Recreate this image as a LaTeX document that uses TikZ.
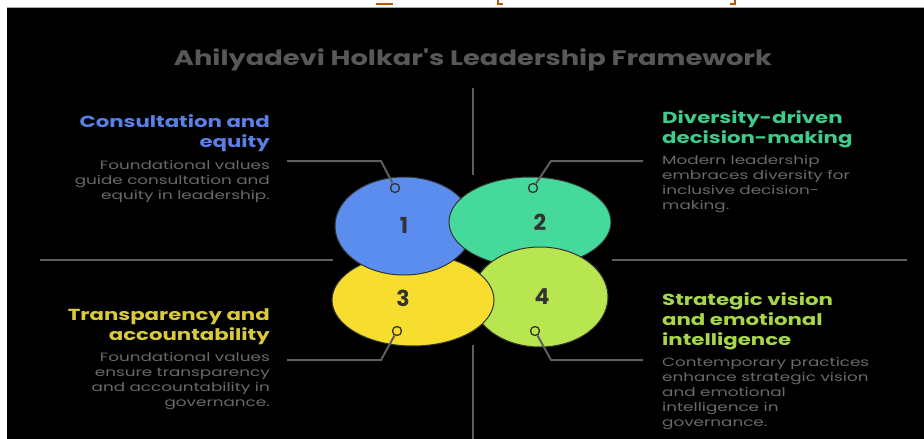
\documentclass[tikz,border=0pt]{standalone}
\usepackage{fontspec}
\setmainfont{Poppins}
\newfontfamily\headfont[FakeStretch=1.33]{Poppins}
\newfontfamily\bodyfont[FakeStretch=1.4]{Poppins}
\newfontfamily\titlefont[FakeStretch=1.3]{Poppins}
\usetikzlibrary{shapes}
\definecolor{linegray}{HTML}{5E5E5E}
\definecolor{txtgray}{HTML}{6A6A6A}
\definecolor{titlegray}{HTML}{585858}
\definecolor{numgray}{HTML}{333333}
\definecolor{blueone}{HTML}{5B8DEF}
\definecolor{greentwo}{HTML}{45D99B}
\definecolor{yellowthree}{HTML}{F7DE2E}
\definecolor{limefour}{HTML}{B8E651}
\definecolor{headblue}{HTML}{5C7FE6}
\definecolor{headgreen}{HTML}{3FCB8C}
\definecolor{headyellow}{HTML}{D9C93C}
\definecolor{headlime}{HTML}{A6D64B}
\definecolor{topmark}{HTML}{B45A0A}
\tikzstyle{petal}=[ellipse,draw=numgray,line width=1pt,inner sep=0pt]
\tikzstyle{num}=[text=numgray,font=\fontsize{22}{22}\selectfont\bfseries]
\tikzstyle{ring}=[circle,draw=numgray,line width=1.3pt,inner sep=0pt,minimum size=9pt]
\tikzstyle{conn}=[linegray,line width=2.5pt]
\tikzstyle{head}=[inner sep=0pt,font=\headfont\fontsize{16}{20}\selectfont\bfseries]
\tikzstyle{body}=[inner sep=0pt,text=txtgray,font=\bodyfont\fontsize{12}{15}\selectfont]

\begin{document}
\begin{tikzpicture}[x=1pt,y=-1pt]
\useasboundingbox (0,0) rectangle (924,439);
\fill[white] (0,0) rectangle (924,439);
\fill[black] (7,8) rectangle (924,439);
\draw[gray!70,line width=1pt] (7,7.5) -- (924,7.5);
% cut-off marks of the caption above
\draw[topmark,line width=2pt] (376,4) -- (393,4);
\draw[topmark,line width=2pt] (498,0) -- (498,4) -- (503,4);
\draw[topmark,line width=2pt] (735,0) -- (735,4) -- (730,4);
\node[text=titlegray,font=\titlefont\fontsize{21}{21}\selectfont\bfseries] (title) at (473,60) {Ahilyadevi Holkar's Leadership Framework};
% axes
\coordinate (vt) at (473,88);
\coordinate (vm) at (473,175);
\coordinate (vb) at (473,345);
\coordinate (vz) at (473,439);
\coordinate (hl) at (40,260);
\coordinate (hm) at (333,260);
\coordinate (hn) at (612,260);
\coordinate (hr) at (907,260);
\draw[conn] (vt) -- (vm);
\draw[conn] (vb) -- (vz);
\draw[conn] (hl) -- (hm);
\draw[conn] (hn) -- (hr);
% petals
\node[petal,fill=yellowthree,minimum width=162pt,minimum height=92pt] (p3) at (413,300) {};
\node[petal,fill=blueone,minimum width=138pt,minimum height=98pt] (p1) at (404,226) {};
\node[petal,fill=greentwo,minimum width=162pt,minimum height=90pt] (p2) at (530,222) {};
\node[petal,fill=limefour,minimum width=136pt,minimum height=100pt] (p4) at (540,297) {};
\begin{scope}
\clip (468,262) rectangle (520,360);
\node[petal,fill=yellowthree,minimum width=162pt,minimum height=92pt] at (413,300) {};
\end{scope}
\node[num] (n1) at (404,225) {1};
\node[num] (n2) at (540,222) {2};
\node[num] (n3) at (403,298) {3};
\node[num] (n4) at (542,297) {4};
% rings and leaders
\node[ring] (m1) at (395,188) {};
\node[ring] (m2) at (533,188) {};
\node[ring] (m3) at (397,331) {};
\node[ring] (m4) at (535,331) {};
\coordinate (k1) at (381,161);
\coordinate (e1) at (287,161);
\coordinate (k2) at (551,161);
\coordinate (e2) at (643,161);
\coordinate (k3) at (381,360);
\coordinate (e3) at (287,360);
\coordinate (k4) at (551,360);
\coordinate (e4) at (643,360);
\draw[conn,line width=2pt] (m1) -- (k1) -- (e1);
\draw[conn,line width=2pt] (m2) -- (k2) -- (e2);
\draw[conn,line width=2pt] (m3) -- (k3) -- (e3);
\draw[conn,line width=2pt] (m4) -- (k4) -- (e4);
% texts
\node[head,text=headblue,align=right,anchor=north east] (h1) at (270,114) {Consultation and\\equity};
\node[body,align=right,anchor=north east] (b1) at (270,160) {Foundational values\\guide consultation and\\equity in leadership.};
\node[head,text=headgreen,align=left,anchor=north west] (h2) at (662,110) {Diversity-driven\\decision-making};
\node[body,align=left,anchor=north west] (b2) at (662,155) {Modern leadership\\embraces diversity for\\inclusive decision-\\making.};
\node[head,text=headyellow,align=right,anchor=north east] (h3) at (270,308) {Transparency and\\accountability};
\node[body,align=right,anchor=north east] (b3) at (270,352) {Foundational values\\ensure transparency\\and accountability in\\governance.};
\node[head,text=headlime,align=left,anchor=north west] (h4) at (662,292) {Strategic vision\\and emotional\\intelligence};
\node[body,align=left,anchor=north west] (b4) at (662,357) {Contemporary practices\\enhance strategic vision\\and emotional\\intelligence in\\governance.};
\end{tikzpicture}
\end{document}
